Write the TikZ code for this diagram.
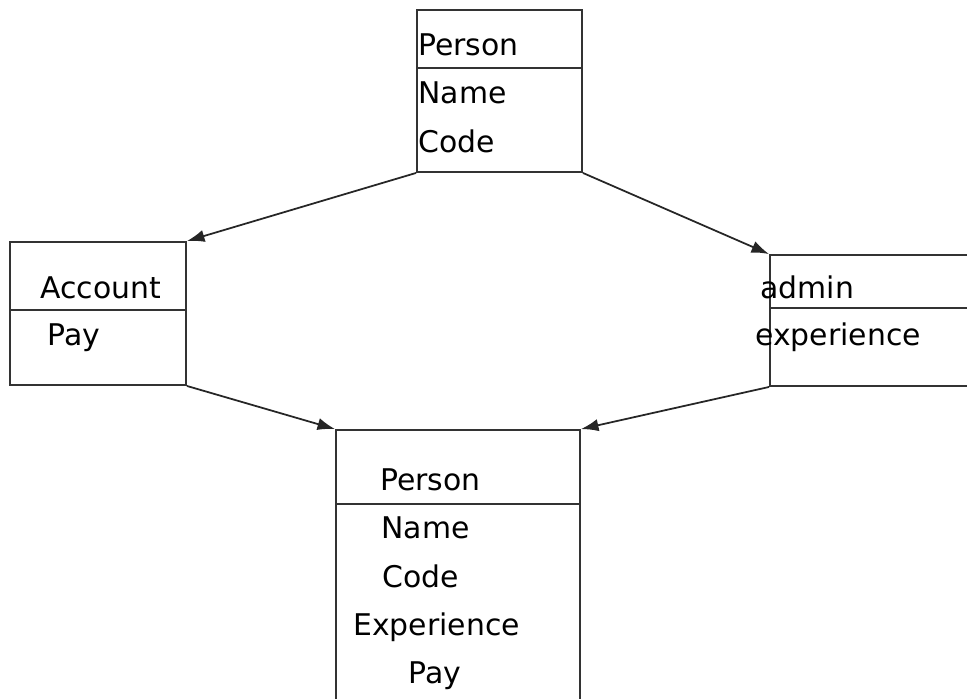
\documentclass[tikz,border=0pt]{standalone}
\usepackage{fontspec}
\setmainfont{DejaVu Sans}
\usepackage{xcolor}
\usetikzlibrary{positioning,arrows.meta,calc}

\begin{document}
\begin{tikzpicture}[
    x=0.02cm, y=-0.02cm,
    >={Latex[length=10pt,width=7pt]},
    cls/.style={draw=black!80, line width=1.1pt, inner sep=0pt},
    field/.style={anchor=base west, inner sep=0pt, font=\fontsize{17}{20}\selectfont},
    arrow/.style={->, line width=1pt, draw=black!85},
]
\useasboundingbox (0,0) rectangle (967,698);
\clip (0,0) rectangle (967,698);

% class boxes
\node[cls, minimum width=3.3cm, minimum height=3.24cm] (person) at (499.5,91) {};
\node[cls, minimum width=3.52cm, minimum height=2.86cm] (account) at (98,313.5) {};
\node[cls, minimum width=4.4cm, minimum height=2.62cm] (admin) at (880,320.5) {};
\node[cls, minimum width=4.88cm, minimum height=5.8cm] (merged) at (458,575) {};

% dividers
\draw[cls] (person.west |- 0,68) -- (person.east |- 0,68);
\draw[cls] (account.west |- 0,310) -- (account.east |- 0,310);
\draw[cls] (admin.west |- 0,308) -- (admin.east |- 0,308);
\draw[cls] (merged.west |- 0,504) -- (merged.east |- 0,504);

% fields
\node[field] (pname) at (418,55) {Person};
\node[field] (pattr1) at (418,103) {Name};
\node[field] (pattr2) at (418,152) {Code};

\node[field] (aname) at (40,298) {Account};
\node[field] (aattr1) at (47,345) {Pay};

\node[field] (dname) at (760,298) {admin};
\node[field] (dattr1) at (755,345) {experience};

\node[field] (mname) at (380,490) {Person};
\node[field] (mattr1) at (381,538) {Name};
\node[field] (mattr2) at (382,587) {Code};
\node[field] (mattr3) at (353,635) {Experience};
\node[field] (mattr4) at (408,683) {Pay};

% inheritance arrows
\draw[arrow] (person.south west) -- (account.north east);
\draw[arrow] (person.south east) -- (admin.north west);
\draw[arrow] (account.south east) -- (merged.north west);
\draw[arrow] (admin.south west) -- (merged.north east);
\end{tikzpicture}
\end{document}
